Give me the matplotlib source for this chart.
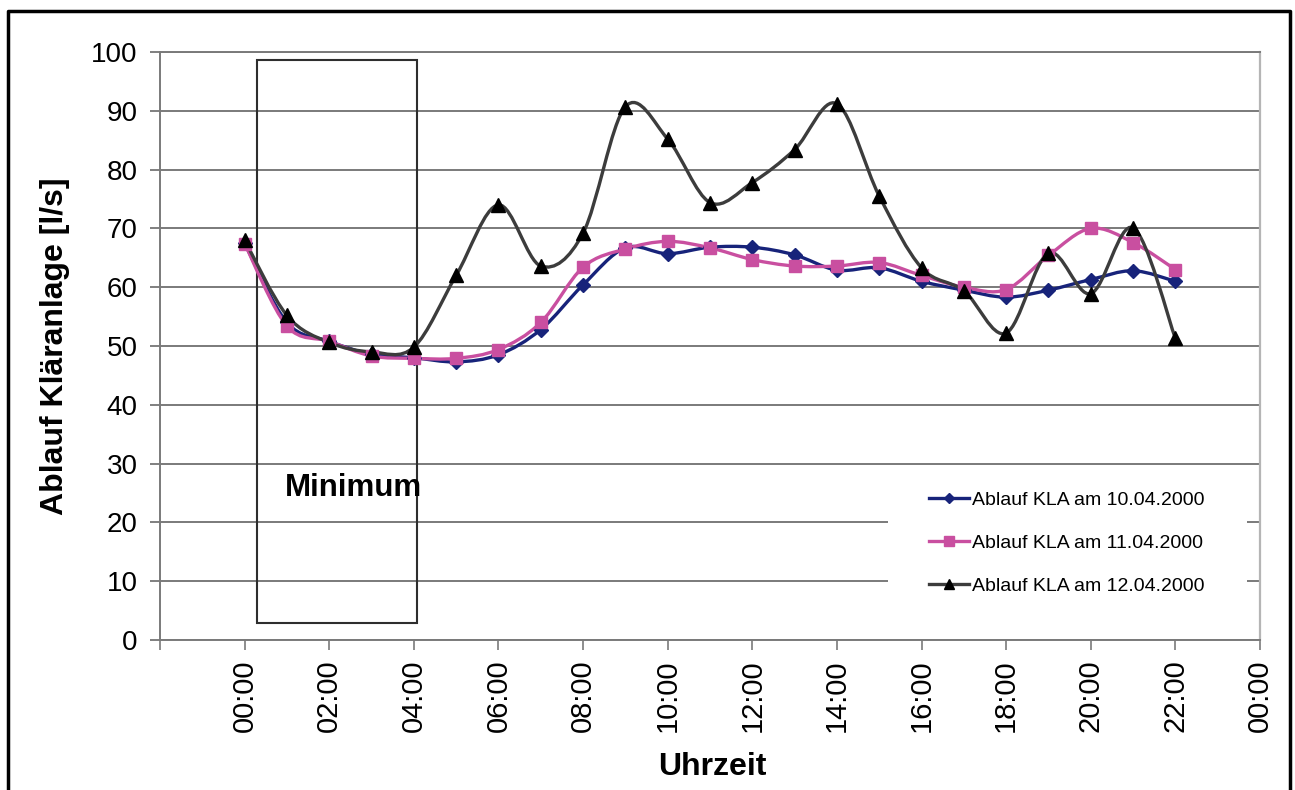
import numpy as np
import matplotlib.pyplot as plt
from matplotlib.path import Path
from matplotlib.patches import PathPatch, Rectangle
from matplotlib.lines import Line2D

plt.rcParams['font.family'] = ['Liberation Sans', 'DejaVu Sans']

# Stunden 00:00 ... 22:00
hours = list(range(23))
ablauf_10 = [67.5, 54.0, 50.8, 48.6, 48.0, 47.3, 48.5, 52.8, 60.4, 66.7, 65.7, 66.8,
             66.8, 65.5, 62.9, 63.3, 61.0, 59.5, 58.3, 59.5, 61.3, 62.8, 61.0]
ablauf_11 = [67.4, 53.4, 50.8, 48.3, 47.9, 47.9, 49.4, 54.0, 63.4, 66.5, 67.8, 66.7,
             64.7, 63.6, 63.6, 64.2, 62.0, 60.0, 59.6, 65.4, 70.0, 67.6, 63.0]
ablauf_12 = [68.0, 55.2, 50.6, 49.0, 49.8, 62.0, 74.0, 63.6, 69.2, 90.7, 85.2, 74.4,
             77.8, 83.4, 91.2, 75.5, 63.3, 59.4, 52.2, 65.8, 58.9, 70.1, 51.3]
labels = ['Ablauf KLA am 10.04.2000', 'Ablauf KLA am 11.04.2000', 'Ablauf KLA am 12.04.2000']

tick_pos = list(range(-2, 25, 2))
tick_lab = [''] + ['%02d:00' % (h % 24) for h in range(0, 25, 2)]

# Minimum-Bereich
min_x0, min_x1 = 0.3, 4.07
min_y0, min_y1 = 2.9, 98.6


def smooth_path(x, y):
    # geglaettete Linie wie in Excel (Bezier durch die Messpunkte)
    pts = np.column_stack([x, y]).astype(float)
    n = len(pts)
    verts = [pts[0]]
    codes = [Path.MOVETO]
    for i in range(n - 1):
        p0 = pts[max(i - 1, 0)]
        p1 = pts[i]
        p2 = pts[i + 1]
        p3 = pts[min(i + 2, n - 1)]
        verts += [p1 + (p2 - p0) / 6.0, p2 - (p3 - p1) / 6.0, p2]
        codes += [Path.CURVE4] * 3
    return Path(verts, codes)


fig = plt.figure(figsize=(12.95, 7.9), dpi=100)
ax = fig.add_axes([160 / 1295, 1 - 640 / 790, 1100 / 1295, 588 / 790])

styles = [
    ('#17237a', 'D', 7, '#17237a'),
    ('#c94fa0', 's', 9, '#c94fa0'),
    ('#3c3c3c', '^', 10, 'black'),
]
series = [ablauf_10, ablauf_11, ablauf_12]
handles = []
for vals, (lc, mk, ms, mc), lab in zip(series, styles, labels):
    ax.add_patch(PathPatch(smooth_path(hours, vals), facecolor='none', edgecolor=lc,
                           lw=2.4, zorder=3))
    ax.plot(hours, vals, linestyle='none', marker=mk, markersize=ms, color=mc, zorder=4)
    handles.append(Line2D([], [], color=lc, lw=2.4, marker=mk, markersize=ms * 0.75,
                          markerfacecolor=mc, markeredgecolor=mc))

ax.set_xlim(-2, 24)
ax.set_ylim(0, 100)
ax.set_yticks(range(0, 101, 10))
ax.set_xticks(tick_pos)
ax.set_xticklabels(tick_lab, rotation=90, fontsize=21)
ax.tick_params(axis='y', labelsize=20, length=7, width=1.2, color='#6a6a6a', pad=9)
ax.tick_params(axis='x', length=7, width=1.2, color='#7a7a7a', pad=7)
ax.grid(axis='y', color='#7a7a7a', lw=1.4, zorder=0)
ax.set_axisbelow(True)

for s in ['left', 'bottom', 'top']:
    ax.spines[s].set_color('#7a7a7a')
    ax.spines[s].set_linewidth(1.4)
ax.spines['right'].set_color('#b5b5b5')
ax.spines['right'].set_linewidth(1.6)

ax.set_ylabel('Ablauf Kläranlage [l/s]', fontsize=23, fontweight='bold')
ax.yaxis.set_label_coords(-0.082, 0.5)
ax.set_xlabel('Uhrzeit', fontsize=23, fontweight='bold')
ax.xaxis.set_label_coords(0.502, -0.19)

ax.add_patch(Rectangle((min_x0, min_y0), min_x1 - min_x0, min_y1 - min_y0,
                       facecolor='none', edgecolor='#2e2e2e', lw=1.5, zorder=2))
ax.text(0.95, 25.9, 'Minimum', fontsize=22.5, fontweight='bold', va='center', ha='left',
        zorder=5)

# weisser Hintergrund der Legende
ax.add_patch(Rectangle((0.662, 0.048), 0.326, 0.229, transform=ax.transAxes,
                       facecolor='white', edgecolor='none', zorder=1))
ax.legend(handles=handles, labels=labels, loc='center left',
          bbox_to_anchor=(0.690, 0.165), frameon=False, fontsize=14,
          handlelength=2.05, handletextpad=0.2, labelspacing=1.3, borderpad=0)

# Rahmen um die ganze Grafik
fx0, fx1, fy1 = 8 / 1295, 1290 / 1295, 1 - 11 / 790
fig.add_artist(Line2D([fx0, fx0, fx1, fx1], [0, fy1, fy1, 0], color='black', lw=2.5,
                      transform=fig.transFigure))

fig.savefig('out.png', dpi=100)
